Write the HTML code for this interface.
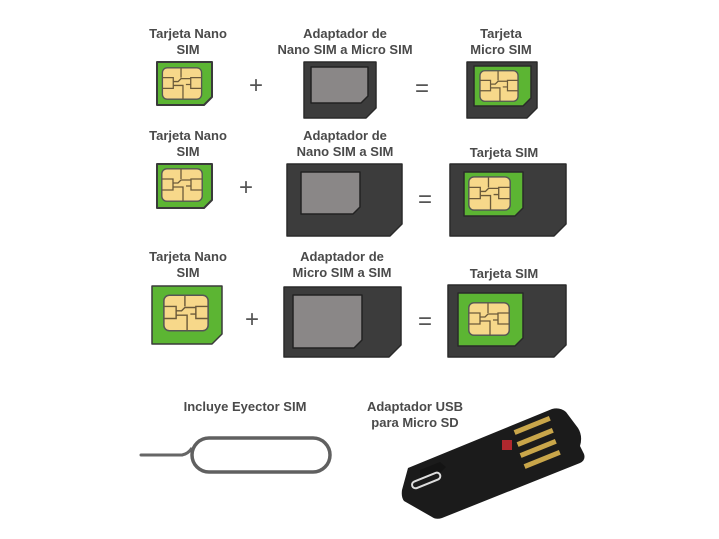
<!DOCTYPE html>
<html><head><meta charset="utf-8"><style>
html,body{margin:0;padding:0;background:#fff;}
svg{display:block}
text{font-family:"Liberation Sans",sans-serif;font-weight:bold;font-size:13px;fill:#4a4a4a;text-anchor:middle}
.op{font-weight:normal;font-size:24px;fill:#555}
</style></head><body>
<svg width="719" height="539" viewBox="0 0 719 539" xmlns="http://www.w3.org/2000/svg">
<defs>
<symbol id="chip" viewBox="0 0 42 34">
<rect x="0.8" y="0.8" width="40.4" height="32.4" rx="5" fill="#f7d88a" stroke="#555" stroke-width="1.4"/>
<path d="M20 1V11 M1 11H12V22H1 M41 11H30V22H41 M12 15H17L20 12H30 M12 19H22V33 M30 18H25" fill="none" stroke="#6b5a3a" stroke-width="1.3"/>
</symbol>
</defs>

<!-- Row 1 -->
<text x="188" y="38">Tarjeta Nano</text><text x="188" y="54">SIM</text>
<path d="M157 62H212V97L204 105H157Z" fill="#5cb533" stroke="#3a3a3a" stroke-width="2" stroke-linejoin="round"/>
<use href="#chip" x="161" y="67" width="42" height="33"/>
<text class="op" x="256" y="93">+</text>
<text x="345" y="38">Adaptador de</text><text x="345" y="54">Nano SIM a Micro SIM</text>
<path d="M304 62H376V108L366 118H304Z" fill="#3c3c3c" stroke="#2a2a2a" stroke-width="1.5" stroke-linejoin="round"/>
<path d="M311 67H368V96L361 103H311Z" fill="#8a8787" stroke="#222" stroke-width="1.5" stroke-linejoin="round"/>
<text class="op" x="422" y="96">=</text>
<text x="501" y="38">Tarjeta</text><text x="501" y="54">Micro SIM</text>
<path d="M467 62H537V108L527 118H467Z" fill="#3c3c3c" stroke="#2a2a2a" stroke-width="1.5" stroke-linejoin="round"/>
<path d="M474 66H531V98L523 106H474Z" fill="#5cb533" stroke="#2a2a2a" stroke-width="1.5" stroke-linejoin="round"/>
<use href="#chip" x="478" y="70" width="42" height="32"/>

<!-- Row 2 -->
<text x="188" y="140">Tarjeta Nano</text><text x="188" y="156">SIM</text>
<path d="M157 164H212V200L204 208H157Z" fill="#5cb533" stroke="#3a3a3a" stroke-width="2" stroke-linejoin="round"/>
<use href="#chip" x="161" y="168" width="42" height="34"/>
<text class="op" x="246" y="195">+</text>
<text x="345" y="140">Adaptador de</text><text x="345" y="156">Nano SIM a SIM</text>
<path d="M287 164H402V224L390 236H287Z" fill="#3c3c3c" stroke="#2a2a2a" stroke-width="1.5" stroke-linejoin="round"/>
<path d="M301 172H360V207L353 214H301Z" fill="#8a8787" stroke="#222" stroke-width="1.5" stroke-linejoin="round"/>
<text class="op" x="425" y="207">=</text>
<text x="504" y="157">Tarjeta SIM</text>
<path d="M450 164H566V224L554 236H450Z" fill="#3c3c3c" stroke="#2a2a2a" stroke-width="1.5" stroke-linejoin="round"/>
<path d="M464 172H523V208L515 216H464Z" fill="#5cb533" stroke="#2a2a2a" stroke-width="1.5" stroke-linejoin="round"/>
<use href="#chip" x="468" y="176" width="43" height="35"/>

<!-- Row 3 -->
<text x="188" y="261">Tarjeta Nano</text><text x="188" y="277">SIM</text>
<path d="M152 286H222V334L212 344H152Z" fill="#5cb533" stroke="#3a3a3a" stroke-width="1.5" stroke-linejoin="round"/>
<use href="#chip" x="163" y="294" width="46" height="38"/>
<text class="op" x="252" y="327">+</text>
<text x="342" y="261">Adaptador de</text><text x="342" y="277">Micro SIM a SIM</text>
<path d="M284 287H401V345L389 357H284Z" fill="#3c3c3c" stroke="#2a2a2a" stroke-width="1.5" stroke-linejoin="round"/>
<path d="M293 295H362V340L354 348H293Z" fill="#8a8787" stroke="#222" stroke-width="1.5" stroke-linejoin="round"/>
<text class="op" x="425" y="329">=</text>
<text x="504" y="278">Tarjeta SIM</text>
<path d="M448 285H566V345L554 357H448Z" fill="#3c3c3c" stroke="#2a2a2a" stroke-width="1.5" stroke-linejoin="round"/>
<path d="M458 293H523V338L515 346H458Z" fill="#5cb533" stroke="#2a2a2a" stroke-width="1.5" stroke-linejoin="round"/>
<use href="#chip" x="468" y="301" width="42" height="36"/>

<!-- Ejector -->
<text x="245" y="411">Incluye Eyector SIM</text>
<path d="M141 455H182" stroke="#666" stroke-width="3" stroke-linecap="round"/>
<path d="M182 455Q188 454 192 448" stroke="#666" stroke-width="3" fill="none"/>
<rect x="192" y="438" width="138" height="34" rx="17" fill="none" stroke="#606060" stroke-width="3.5"/>

<!-- USB -->
<text x="415" y="411">Adaptador USB</text><text x="415" y="427">para Micro SD</text>
<path d="M408 468L552 409Q560 407 566 412L578 428Q583 436 580 446L584 454Q586 460 580 463L442 518Q436 520 432 517L404 501Q401 497 402 490Z" fill="#1b1b1b"/>
<path d="M420 470L440 462L446 467L440 473L420 481Z" fill="#141414"/>
<rect x="411" y="477" width="30" height="7" rx="3.5" transform="rotate(-22 426 480)" fill="none" stroke="#ddd" stroke-width="2"/>
<g fill="#c9a64a">
<rect x="513" y="423" width="38" height="5" transform="rotate(-22 532 425)"/>
<rect x="516" y="435" width="38" height="5" transform="rotate(-22 535 437)"/>
<rect x="519" y="446" width="38" height="5" transform="rotate(-22 538 448)"/>
<rect x="523" y="457" width="38" height="5" transform="rotate(-22 542 459)"/>
</g>
<rect x="502" y="440" width="10" height="10" fill="#b0282e"/>
</svg>
</body></html>
